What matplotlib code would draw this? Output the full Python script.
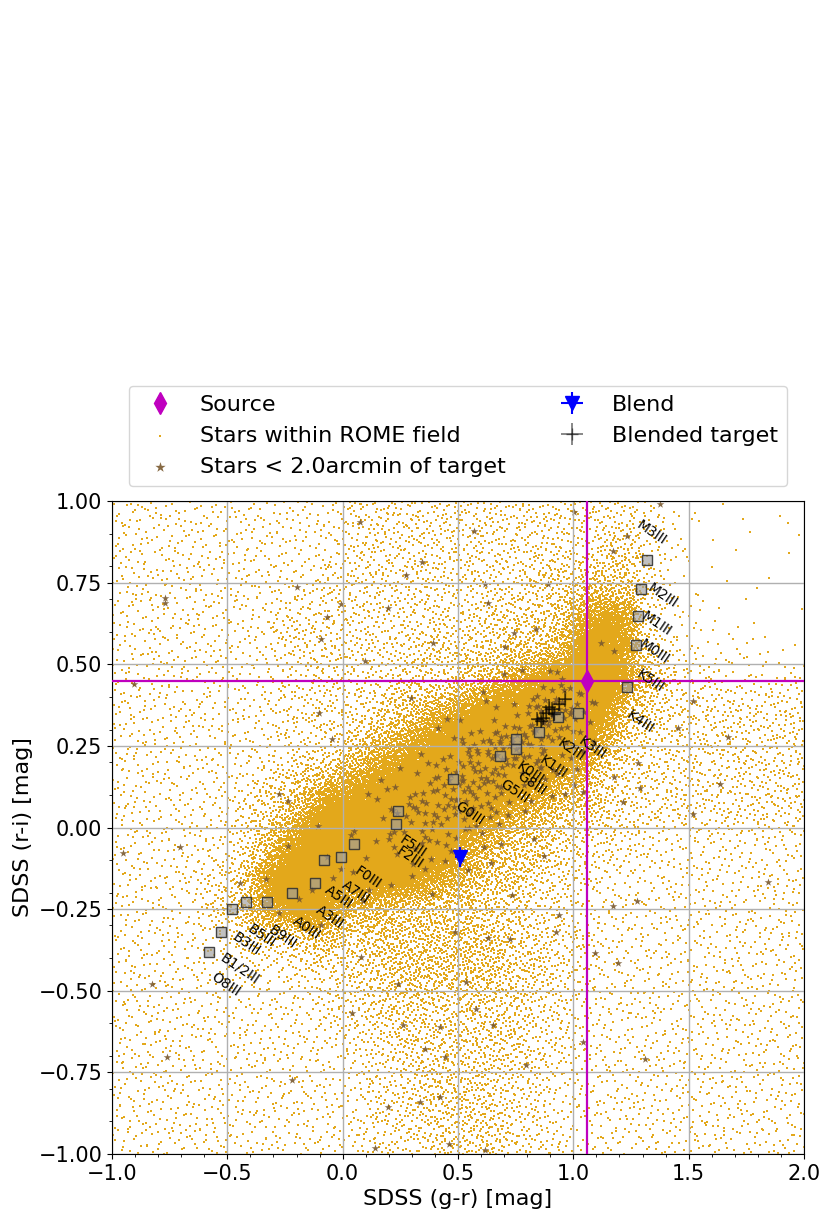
import numpy as np
import matplotlib
matplotlib.use("Agg")
import matplotlib.pyplot as plt
from matplotlib.ticker import MultipleLocator

# ---------------- data ----------------
# Field-star density (ROME field), estimated per 0.1 x 0.1 mag cell.
# Rows from y=1.0 (top) down to y=-1.0, columns from x=-1.0 to x=2.0.
# Each digit is a density level (0 = very sparse ... 9 = saturated).
field_rows = [
    "22222 22222 33333 33333 33321 00000",
    "22222 22222 33333 33333 34421 00000",
    "22222 22223 33333 33344 55531 00000",
    "22222 22333 33333 34445 78721 10000",
    "22222 22333 33344 44556 99732 11100",
    "22222 22233 33444 56789 99753 32222",
    "22222 22333 34567 89999 98543 33333",
    "22222 22233 56789 99999 86433 33333",
    "22222 23456 78999 99987 64333 33333",
    "22222 34579 99999 98765 54333 33333",
    "22222 35799 99999 76554 33322 22222",
    "22223 47999 99987 65543 32222 22222",
    "22224 57898 66555 54433 22222 22222",
    "22222 34455 45555 55443 32222 22222",
    "22222 22233 44555 55443 32222 22222",
    "22222 22223 34444 44433 22222 22222",
    "22222 22222 33444 44433 22222 22222",
    "22222 22222 23344 44332 22222 22222",
    "22222 22222 23344 44332 22222 22222",
    "22222 22222 23334 44332 22222 22222",
]
field_level_counts = [1, 7, 14, 27, 45, 75, 130, 230, 420, 900]

# Stars < 2.0 arcmin of target: density in the band (x -0.3..1.1, y 0.5 down to -0.3)
near_rows = [
    "00000000011232",
    "00000001124784",
    "00000012478642",
    "00001246764321",
    "00112466542110",
    "01112343221100",
    "11111221100000",
    "11110000000000",
]
near_level_counts = [0, 1, 2, 4, 6, 9, 13, 17, 22, 28]
# scattered near-target stars outside the band
near_x = [0.074, 0.569, 0.273, 0.345, -0.198, -0.095, -0.069, -0.008, -0.771, -0.771,
          1.004, 1.376, 1.172, 1.233, 0.704, 0.628, 0.889, 0.742, 0.840, 0.197,
          0.618, 0.393, 1.118, 1.176, -0.103, -0.046, 0.298, 0.097, 1.452, 1.672,
          1.634, 1.519, 1.281, 1.176, 1.290, 1.519, 1.214, -0.905, -0.275, -0.237,
          -0.952, -0.704, -0.447, -0.332, -0.828, -0.761, -0.218, 0.040, 0.078, 0.240,
          0.263, 0.355, 0.422, 0.445, 0.489, 0.536, 0.580, 0.632, 0.651, 0.727,
          0.733, 0.794, 0.937, 0.927, 1.042, 1.095, 1.195, 1.170, 1.277, 1.309,
          1.844, 0.198, 0.336, 0.422, 0.460, 0.618, 0.141, -0.008, 0.221, 0.202]
near_y = [0.937, 0.908, 0.773, 0.813, 0.737, 0.578, 0.645, 0.684, 0.704, 0.689,
          0.966, 0.992, 0.847, 0.893, 0.554, 0.689, 0.745, 0.597, 0.609, 0.671,
          0.745, 0.566, 0.566, 0.541, 0.352, 0.270, 0.398, 0.510, 0.306, 0.276,
          0.133, 0.388, 0.199, 0.155, 0.122, 0.041, 0.077, 0.439, 0.102, 0.082,
          -0.077, -0.059, -0.171, -0.159, -0.478, -0.704, -0.773, -0.567, -0.398, -0.480,
          -0.605, -0.679, -0.610, -0.704, -0.319, -0.472, -0.556, -0.337, -0.605, -0.340,
          -0.207, -0.726, -0.268, -0.319, -0.656, -0.384, -0.414, -0.241, -0.226, -0.709,
          -0.166, -0.855, -0.840, -0.824, -0.970, -0.988, -0.983, -0.126, -0.013, -0.034]

# Giant-sequence squares
giant_x = [1.319, 1.293, 1.280, 1.271, 1.232, 1.020, 0.933, 0.851, 0.751, 0.751,
           0.682, 0.478, 0.240, 0.231, 0.049, -0.007, -0.081, -0.120, -0.220, -0.328,
           -0.419, -0.480, -0.528, -0.580]
giant_y = [0.819, 0.731, 0.648, 0.559, 0.430, 0.351, 0.338, 0.293, 0.271, 0.240,
           0.219, 0.149, 0.051, 0.011, -0.050, -0.090, -0.100, -0.170, -0.200, -0.228,
           -0.228, -0.249, -0.320, -0.381]

# Spectral type labels and their anchor positions
sptype_labels = ["M3III", "M2III", "M1III", "M0III", "K5III", "K4III", "K3III", "K2III",
                 "K1III", "K0III", "G8III", "G5III", "G0III", "F5III", "F2III", "F0III",
                 "A7III", "A5III", "A3III", "A0III", "B9III", "B5III", "B3III", "B1/2III",
                 "O8III"]
sptype_x = [1.338, 1.387, 1.360, 1.350, 1.332, 1.291, 1.082, 0.992, 0.914, 0.812,
            0.818, 0.746, 0.549, 0.303, 0.293, 0.108, 0.058, -0.016, -0.058, -0.155,
            -0.262, -0.354, -0.416, -0.444, -0.508]
sptype_y = [0.903, 0.711, 0.623, 0.539, 0.450, 0.323, 0.243, 0.237, 0.184, 0.167,
            0.134, 0.110, 0.043, -0.058, -0.093, -0.153, -0.198, -0.212, -0.275, -0.308,
            -0.336, -0.333, -0.357, -0.432, -0.482]

# Source, blend and blended target
source_gr, source_ri = 1.06, 0.45
blend_gr, blend_ri = 0.507, -0.090
blend_gr_err, blend_ri_err = 0.02, 0.03
target_gr = [0.908, 0.870, 0.861, 0.966, 0.937, 0.880, 0.918, 0.842, 0.895]
target_ri = [0.362, 0.337, 0.327, 0.393, 0.378, 0.352, 0.347, 0.332, 0.370]
target_gr_err = [0.030, 0.027, 0.027, 0.030, 0.027, 0.030, 0.027, 0.027, 0.030]
target_ri_err = [0.024, 0.022, 0.022, 0.024, 0.022, 0.024, 0.022, 0.022, 0.024]

xlim = (-1.0, 2.0)
ylim = (-1.0, 1.0)
x_major = [-1.0, -0.5, 0.0, 0.5, 1.0, 1.5, 2.0]
y_major = [-1.0, -0.75, -0.5, -0.25, 0.0, 0.25, 0.5, 0.75, 1.0]


# ---------------- render estimated densities as points ----------------
def halton(idx, base):
    idx = idx.astype(np.int64).copy()
    f = np.ones(idx.shape)
    r = np.zeros(idx.shape)
    while np.any(idx > 0):
        f = f / base
        r = r + f * (idx % base)
        idx = idx // base
    return r


def render_density(rows, counts, x0, y0, cell, offset):
    lev = np.array([[int(ch) for ch in row.replace(" ", "")] for row in rows], float)
    nr, nc = lev.shape
    cmax = counts[-1]
    n = int(cmax * nr * nc)
    k = np.arange(offset, offset + n)
    u, v, w = halton(k, 2), halton(k, 3), halton(k, 5)
    x = x0 + u * nc * cell
    y = y0 - v * nr * cell
    fc = np.clip((x - x0) / cell - 0.5, 0, nc - 1)
    fr = np.clip((y0 - y) / cell - 0.5, 0, nr - 1)
    c0 = np.minimum(np.floor(fc).astype(int), nc - 2)
    r0 = np.minimum(np.floor(fr).astype(int), nr - 2)
    tc, tr = fc - c0, fr - r0
    L = (lev[r0, c0] * (1 - tc) * (1 - tr) + lev[r0, c0 + 1] * tc * (1 - tr)
         + lev[r0 + 1, c0] * (1 - tc) * tr + lev[r0 + 1, c0 + 1] * tc * tr)
    dens = np.interp(L, np.arange(len(counts)), counts)
    keep = w < dens / cmax
    return x[keep], y[keep]


fx, fy = render_density(field_rows, field_level_counts, -1.0, 1.0, 0.1, 1)
nx, ny = render_density(near_rows, near_level_counts, -0.3, 0.5, 0.1, 17)
nx = np.concatenate([nx, near_x])
ny = np.concatenate([ny, near_y])

# ---------------- figure ----------------
fig = plt.figure(figsize=(8.31, 12.2), dpi=100)
ax = fig.add_axes([0.1348, 0.0541, 0.8327, 0.5352])

field_color = "#E3A81B"
ax.scatter(fx, fy, s=2.4, marker="s", c=field_color, linewidths=0, zorder=1,
           label="Stars within ROME field")
ax.scatter(nx, ny, s=34, marker="*", c="#7A5A30", alpha=0.9, linewidths=0, zorder=1.2,
           label="Stars < 2.0arcmin of target")

ax.axvline(source_gr, color="m", lw=1.6, zorder=4)
ax.axhline(source_ri, color="m", lw=1.6, zorder=4)

ax.plot(giant_x, giant_y, "s", ms=6.5, mfc=(0.62, 0.62, 0.62, 0.65),
        mec=(0.2, 0.2, 0.2, 0.9), mew=1.0, ls="none", zorder=5)
for lab, tx, ty in zip(sptype_labels, sptype_x, sptype_y):
    ax.text(tx, ty, lab, rotation=-34, ha="center", va="center",
            rotation_mode="anchor", fontsize=10, zorder=6)

ax.errorbar(target_gr, target_ri, xerr=target_gr_err, yerr=target_ri_err,
            fmt="+", color="k", alpha=0.5, ms=9, lw=1.3, zorder=6,
            label="Blended target")
ax.errorbar([blend_gr], [blend_ri], xerr=[blend_gr_err], yerr=[blend_ri_err],
            fmt="v", color="b", ms=10, lw=1.5, zorder=7, label="Blend")
ax.plot([source_gr], [source_ri], "d", color="m", ms=11, ls="none", zorder=8,
        label="Source")

ax.set_xlim(*xlim)
ax.set_ylim(*ylim)
ax.set_xticks(x_major)
ax.set_yticks(y_major)
ax.xaxis.set_minor_locator(MultipleLocator(0.1))
ax.yaxis.set_minor_locator(MultipleLocator(0.1))
ax.tick_params(axis="both", which="major", labelsize=15)
ax.grid(True, which="major", color="#b0b0b0", lw=1.0)
ax.set_xlabel("SDSS (g-r) [mag]", fontsize=16)
ax.set_ylabel("SDSS (r-i) [mag]", fontsize=16)

handles, labels = ax.get_legend_handles_labels()
order = ["Source", "Stars within ROME field", "Stars < 2.0arcmin of target",
         "Blend", "Blended target"]
hmap = dict(zip(labels, handles))
leg = ax.legend([hmap[k] for k in order], order, loc="lower center",
                bbox_to_anchor=(0.5, 1.023), borderaxespad=0, ncol=2, fontsize=16)
leg.legend_handles[2].set_sizes([60])

fig.savefig("out.png", dpi=100)
